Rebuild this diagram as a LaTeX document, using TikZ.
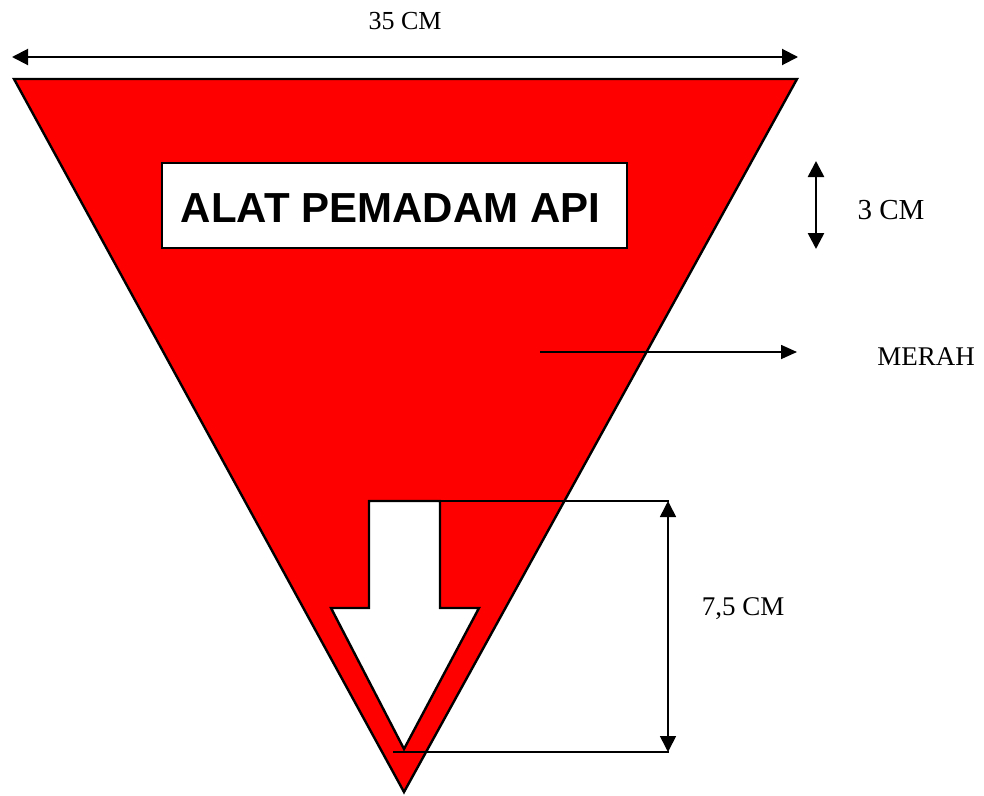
\documentclass[tikz,border=0pt]{standalone}
\usepackage{fontspec}
\setmainfont{Liberation Serif}
\newfontfamily\arialbold{Liberation Sans}
\usetikzlibrary{arrows.meta}
\begin{document}
\begin{tikzpicture}[x=1pt,y=-1pt,
  dimline/.style={line width=2pt,{Triangle[length=16pt,width=16pt]}-{Triangle[length=16pt,width=16pt]}},
  pointer/.style={line width=1.6pt,-{Triangle[length=16pt,width=14pt]}},
  thinline/.style={line width=1.6pt},
  lbl/.style={font=\fontsize{27}{30}\selectfont, inner sep=0pt},
  outline/.style={draw=black, line width=2.4pt, line join=miter}]
\useasboundingbox (0,0) rectangle (984,795);
% triangle
\coordinate (tl) at (14,79);
\coordinate (tr) at (797,79);
\coordinate (ap) at (404,792);
\fill[red] (tl) -- (tr) -- (ap) -- cycle;
\draw[outline] (tl) -- (tr) -- (ap) -- cycle;
% white arrow
\coordinate (s1) at (369,501);
\coordinate (s2) at (440,501);
\coordinate (tip) at (404,749);
\draw[outline, fill=white] (s1) -- (s2) -- (440,608) -- (479,608) -- (tip) -- (331,608) -- (369,608) -- cycle;
% title box
\node[draw=black, line width=2.6pt, fill=white, minimum width=465pt, minimum height=85pt, inner sep=0pt] (title) at (394.5,205.5) {};
\node[font=\arialbold\bfseries\fontsize{42}{44}\selectfont, inner sep=0pt] (titletext) at (390.5,208) {ALAT PEMADAM API};
% 35 CM
\coordinate (w1) at (12,57);
\coordinate (w2) at (798,57);
\draw[dimline] (w1) -- (w2);
\node[lbl, font=\fontsize{26}{30}\selectfont] (t35) at (405,21) {35 CM};
% 3 CM
\coordinate (h1) at (816,161);
\coordinate (h2) at (816,249);
\draw[dimline, line width=2.6pt] (h1) -- (h2);
\node[lbl, font=\fontsize{29}{32}\selectfont] (t3) at (891,210) {3 CM};
% MERAH
\coordinate (m1) at (540,352);
\coordinate (m2) at (797,352);
\draw[pointer] (m1) -- (m2);
\node[lbl] (merah) at (926,357) {MERAH};
% 7,5 CM
\coordinate (d1) at (669,501);
\coordinate (d2) at (393,752);
\coordinate (d3) at (669,752);
\draw[thinline] (s1) -- (d1);
\draw[thinline] (d2) -- (d3);
\draw[dimline, line width=1.6pt] (668,501) -- (668,752);
\node[lbl] (t75) at (743,609) {7,5 CM};
\end{tikzpicture}
\end{document}
